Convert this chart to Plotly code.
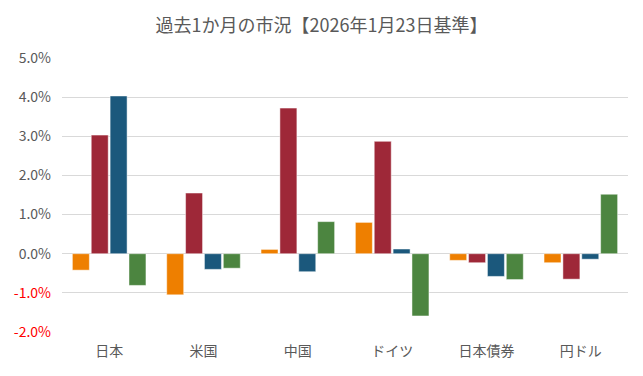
import plotly.graph_objects as go

categories = ["日本", "米国", "中国", "ドイツ", "日本債券", "円ドル"]
series_a = [-0.42, -1.05, 0.11, 0.80, -0.17, -0.23]
series_b = [3.03, 1.55, 3.72, 2.87, -0.23, -0.65]
series_c = [4.03, -0.40, -0.46, 0.12, -0.58, -0.14]
series_d = [-0.81, -0.37, 0.82, -1.59, -0.66, 1.52]
tick_vals = [-2, -1, 0, 1, 2, 3, 4, 5]
title_text = "過去1か月の市況【2026年1月23日基準】"

colors = ["#EE7F00", "#9E2838", "#1B587C", "#4C8540"]
series = [series_a, series_b, series_c, series_d]

fig = go.Figure()
for vals, col in zip(series, colors):
    fig.add_trace(go.Bar(x=categories, y=vals, marker_color=col,
                         marker_line_color="rgba(255,255,255,0.6)", marker_line_width=0.8))

def fmt(v):
    s = f"{v:.1f}%"
    if v < 0:
        return f'<span style="color:#FF0000">{s}</span>'
    return s

fig.update_layout(
    width=643, height=376,
    margin=dict(l=62, r=15, t=58, b=44, autoexpand=False),
    paper_bgcolor="white", plot_bgcolor="white",
    showlegend=False,
    barmode="group", bargap=0.2, bargroupgap=0.1,
    font=dict(family="Noto Sans CJK JP, sans-serif", color="#595959", size=14),
    title=dict(text=title_text, x=0.5, xanchor="center", y=1 - 26 / 376, yanchor="middle",
               font=dict(size=18, color="#595959")),
)
fig.update_yaxes(range=[-2, 5], tickvals=tick_vals, ticktext=[fmt(v) for v in tick_vals],
                 showgrid=True, gridcolor="#D9D9D9", gridwidth=1,
                 zeroline=True, zerolinecolor="#D9D9D9", zerolinewidth=1,
                 showline=False, ticks="", ticklen=0, tickfont=dict(size=14),
                 automargin=False, ticklabelstandoff=10)
fig.update_xaxes(showline=False, showgrid=False, ticks="", tickfont=dict(size=14),
                 automargin=False, ticklabelstandoff=9)

fig.write_html("out.html", config={"displayModeBar": False},
               post_script="document.body.style.margin='0';")
